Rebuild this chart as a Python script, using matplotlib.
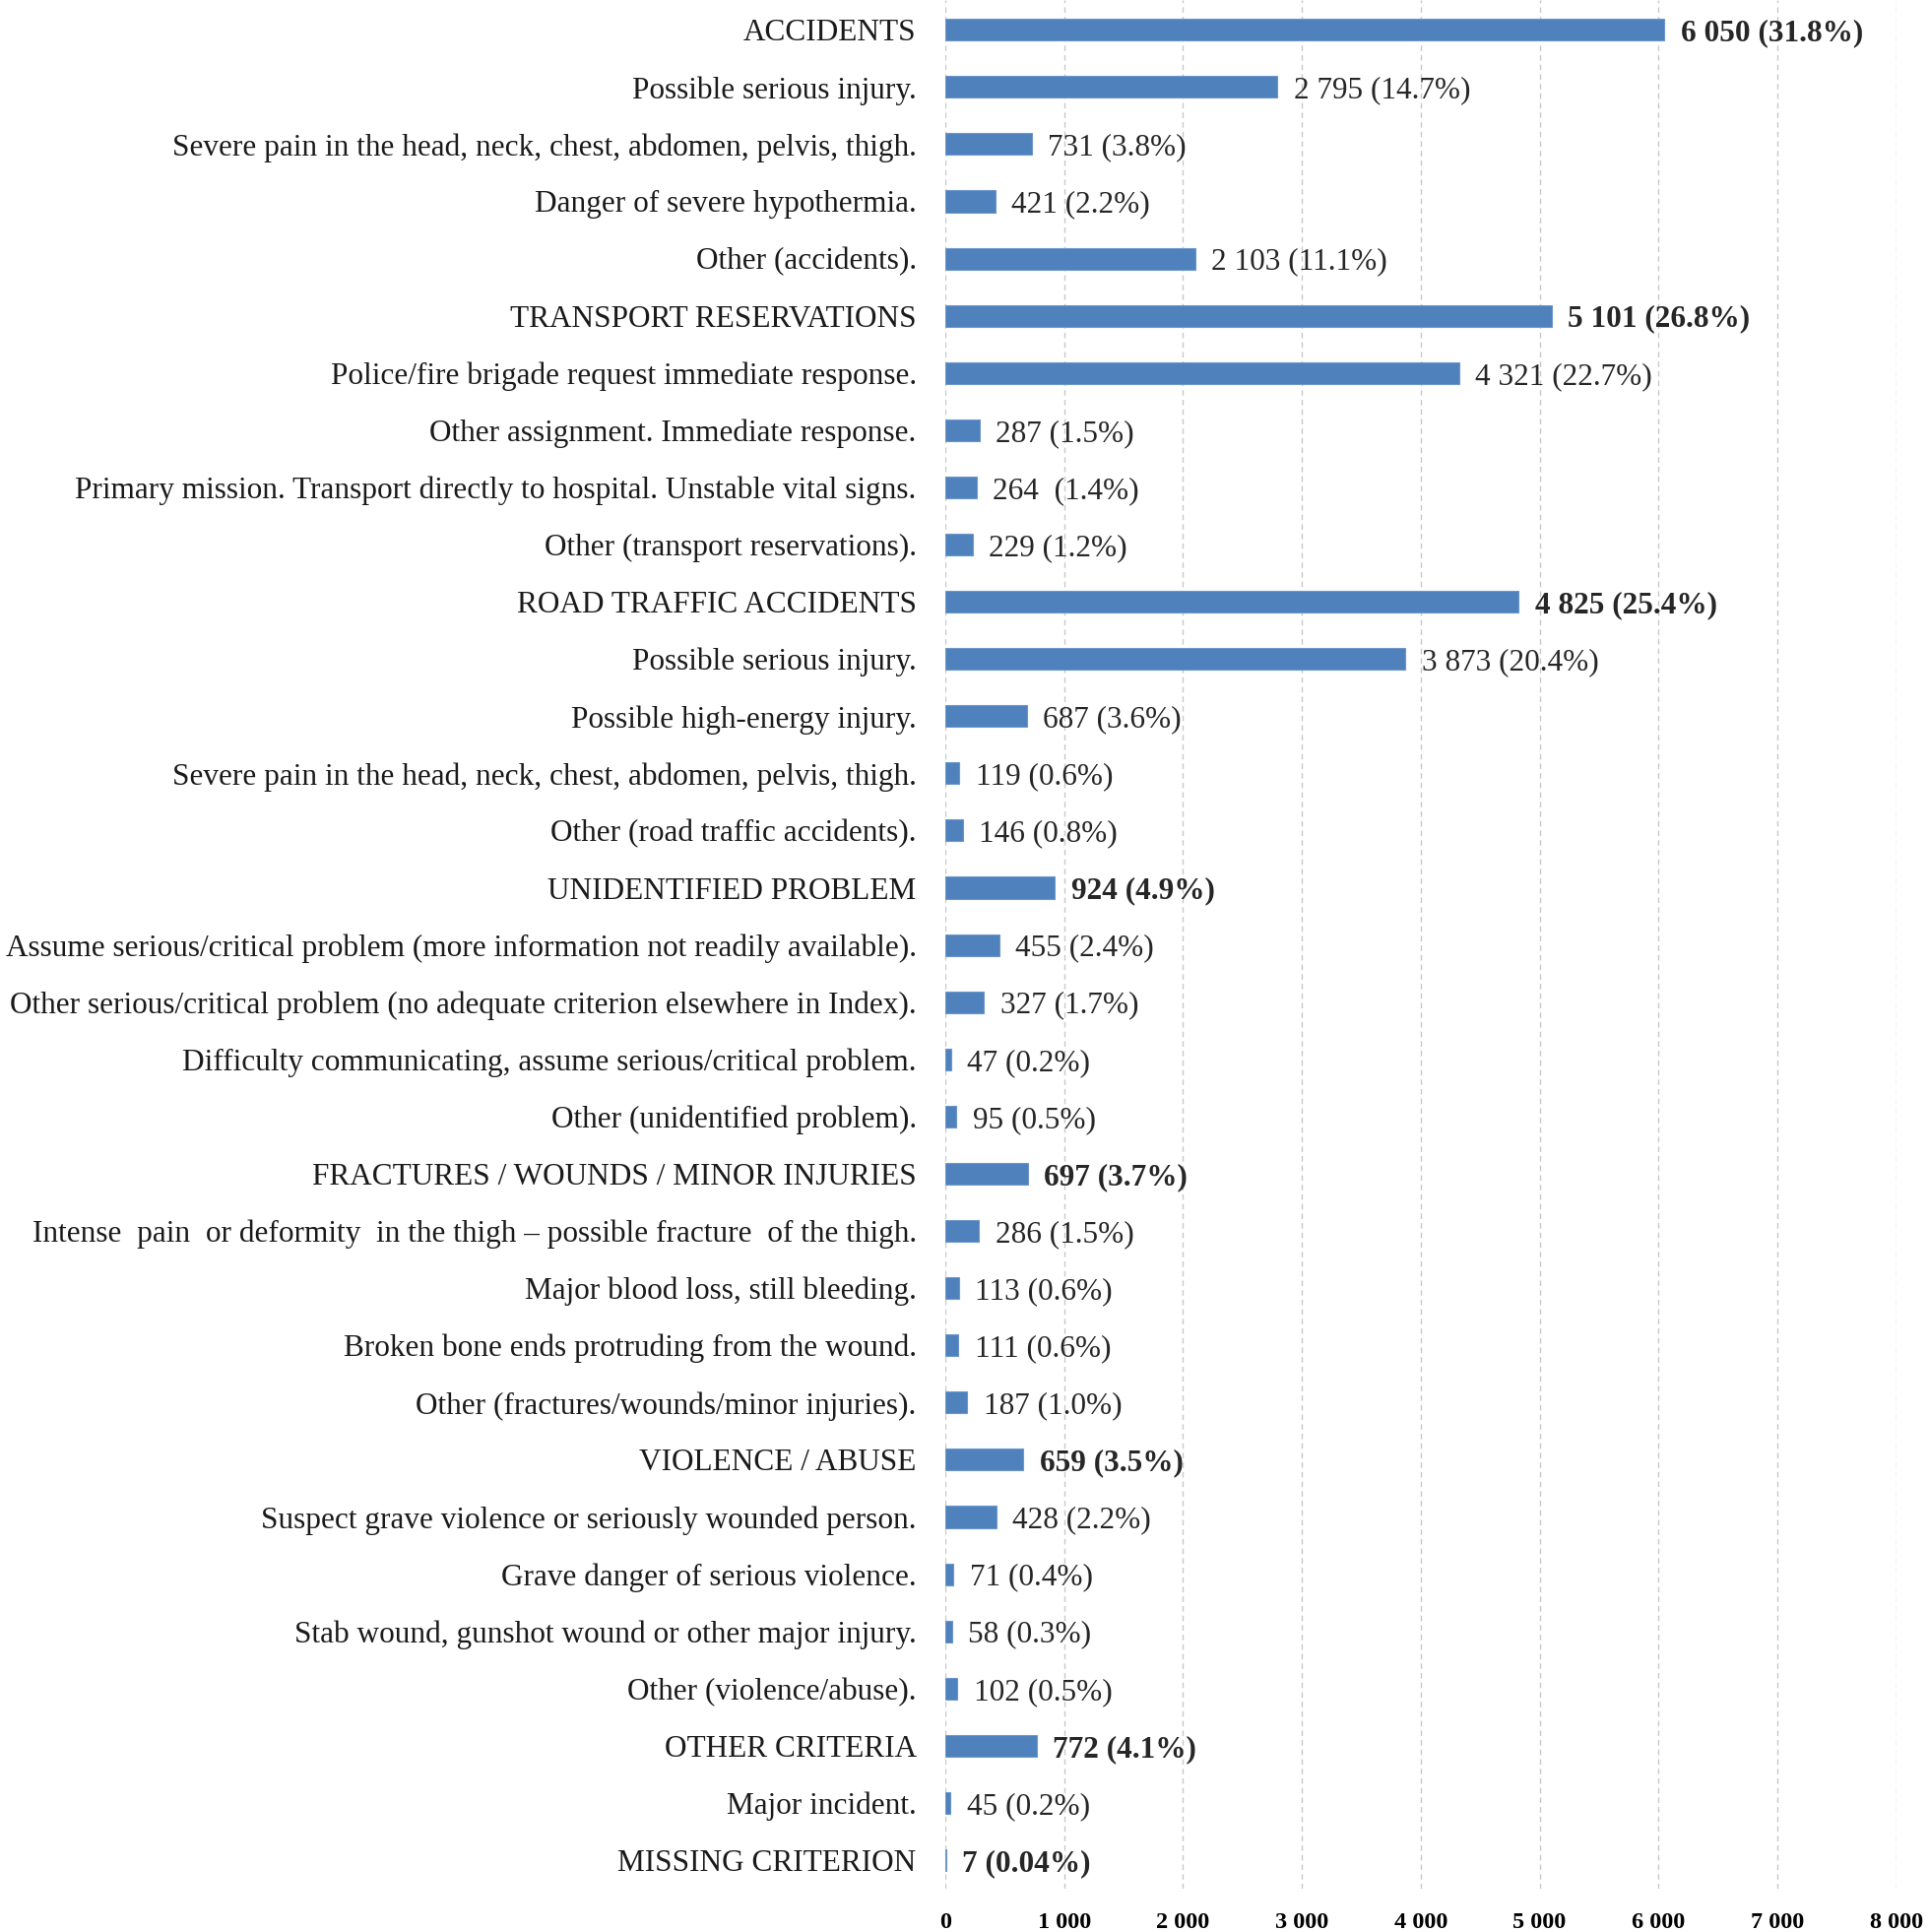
import matplotlib.pyplot as plt
from matplotlib.ticker import FuncFormatter

# etiquetas (de arriba hacia abajo)
labels = [
    "ACCIDENTS",
    "Possible serious injury.",
    "Severe pain in the head, neck, chest, abdomen, pelvis, thigh.",
    "Danger of severe hypothermia.",
    "Other (accidents).",
    "TRANSPORT RESERVATIONS",
    "Police/fire brigade request immediate response.",
    "Other assignment. Immediate response.",
    "Primary mission. Transport directly to hospital. Unstable vital signs.",
    "Other (transport reservations).",
    "ROAD TRAFFIC ACCIDENTS",
    "Possible serious injury.",
    "Possible high-energy injury.",
    "Severe pain in the head, neck, chest, abdomen, pelvis, thigh.",
    "Other (road traffic accidents).",
    "UNIDENTIFIED PROBLEM",
    "Assume serious/critical problem (more information not readily available).",
    "Other serious/critical problem (no adequate criterion elsewhere in Index).",
    "Difficulty communicating, assume serious/critical problem.",
    "Other (unidentified problem).",
    "FRACTURES / WOUNDS / MINOR INJURIES",
    "Intense  pain  or deformity  in the thigh \u2013 possible fracture  of the thigh.",
    "Major blood loss, still bleeding.",
    "Broken bone ends protruding from the wound.",
    "Other (fractures/wounds/minor injuries).",
    "VIOLENCE / ABUSE",
    "Suspect grave violence or seriously wounded person.",
    "Grave danger of serious violence.",
    "Stab wound, gunshot wound or other major injury.",
    "Other (violence/abuse).",
    "OTHER CRITERIA",
    "Major incident.",
    "MISSING CRITERION",
]

values = [6050, 2795, 731, 421, 2103,
          5101, 4321, 287, 264, 229,
          4825, 3873, 687, 119, 146,
          924, 455, 327, 47, 95,
          697, 286, 113, 111, 187,
          659, 428, 71, 58, 102,
          772, 45, 7]

pcts = ["31.8%", "14.7%", "3.8%", "2.2%", "11.1%",
        "26.8%", "22.7%", "1.5%", "1.4%", "1.2%",
        "25.4%", "20.4%", "3.6%", "0.6%", "0.8%",
        "4.9%", "2.4%", "1.7%", "0.2%", "0.5%",
        "3.7%", "1.5%", "0.6%", "0.6%", "1.0%",
        "3.5%", "2.2%", "0.4%", "0.3%", "0.5%",
        "4.1%", "0.2%", "0.04%"]

xticks = [0, 1000, 2000, 3000, 4000, 5000, 6000, 7000, 8000]

plt.rcParams['font.family'] = ['Liberation Serif', 'DejaVu Serif']

fig = plt.figure(figsize=(19.59, 19.62), dpi=100)
ax = fig.add_axes([0.490, 0.0224, 0.493, 0.9776])

y = list(range(len(labels)))
ax.barh(y, values, height=0.38, color='#4F81BD', edgecolor='#6E97C9',
        linewidth=0.8, zorder=3)

def fmt_miles(v):
    return f"{int(v):,}".replace(",", " ")

# en el original hay un doble espacio en la fila 'Primary mission'
sep = [" "] * len(values)
sep[8] = "  "

for yi, v, p, lab, s in zip(y, values, pcts, labels, sep):
    cabecera = lab.isupper()
    ax.text(v + 135, yi, f"{fmt_miles(v)}{s}({p})", va='center_baseline',
            ha='left', fontsize=22.5, color='#262626',
            fontweight='bold' if cabecera else 'normal')

ax.set_yticks(y)
ax.set_yticklabels(labels, fontsize=22.5, color='#1a1a1a', va='center_baseline')
ax.set_ylim(len(labels) - 0.5, -0.52)
ax.set_xlim(0, 8000)
ax.set_xticks(xticks)
ax.xaxis.set_major_formatter(FuncFormatter(lambda v, pos: fmt_miles(v)))
for t in ax.get_xticklabels():
    t.set_fontweight('bold')
    t.set_fontsize(17.5)
ax.tick_params(axis='y', length=0, pad=21)
ax.tick_params(axis='x', length=0, pad=17)

ax.xaxis.grid(True, linestyle=(0, (4, 3)), color='#C8C8C8', linewidth=1, zorder=0)
ax.set_axisbelow(True)
for s in ax.spines.values():
    s.set_visible(False)

plt.savefig('out.png', dpi=100, facecolor='white')
